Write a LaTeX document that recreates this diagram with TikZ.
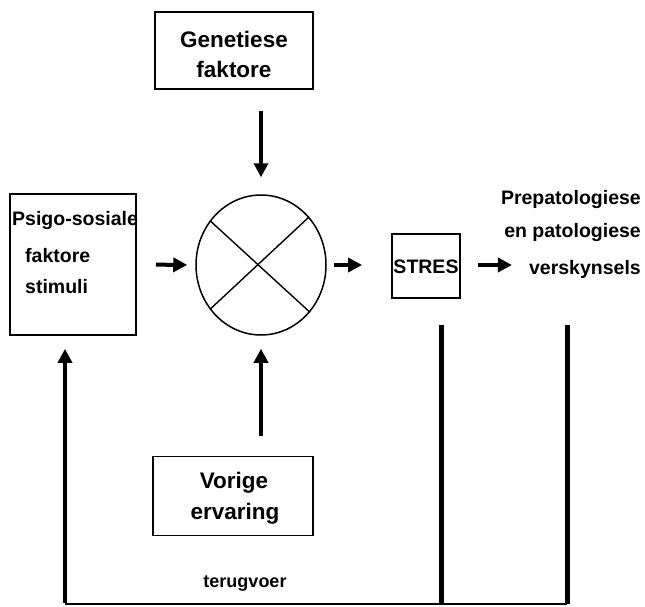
\documentclass[tikz,border=0pt]{standalone}
\usepackage{fontspec}
\setmainfont{Liberation Sans}
\usetikzlibrary{arrows.meta,shapes.geometric}
\begin{document}
\begin{tikzpicture}[x=1pt,y=-1pt,
  box/.style={draw,line width=1.8pt,inner sep=0pt},
  lbl/.style={inner sep=0pt,anchor=base,font=\bfseries\fontsize{22.5}{26}\selectfont},
  slbl/.style={inner sep=0pt,font=\bfseries\fontsize{19.5}{23}\selectfont},
  flow/.style={line width=4pt,-{Triangle[length=14pt,width=14pt]}},
  fbline/.style={line width=5pt},
]
\useasboundingbox (0,0) rectangle (645,607);

% boxes
\node[box,minimum width=158pt,minimum height=77pt] (gen) at (234,50.5) {};
\node[box,minimum width=126pt,minimum height=141pt] (psigo) at (73,264.5) {};
\node[box,minimum width=68pt,minimum height=64pt] (stres) at (426,266) {};
\node[box,minimum width=160pt,minimum height=79pt] (vor) at (233,496) {};

% combining ellipse with its cross
\node[draw,ellipse,line width=1.5pt,minimum width=130pt,minimum height=140pt,inner sep=0pt] (circ) at (261,265) {};
\draw[line width=1.4pt] (circ.139) -- (circ.316);
\draw[line width=1.4pt] (circ.45) -- (circ.221);

% texts
\node[lbl] (gen1) at (234,48) {Genetiese};
\node[lbl] (gen2) at (234,78) {faktore};
\node[lbl] (vor1) at (234,488) {Vorige};
\node[lbl] (vor2) at (235,519) {ervaring};
\node[slbl,anchor=base west] (ps1) at (12,225) {Psigo-sosiale};
\node[slbl,anchor=base west] (ps2) at (25,262) {faktore};
\node[slbl,anchor=base west] (ps3) at (25,293) {stimuli};
\node[slbl,anchor=base] (stxt) at (426,273) {STRES};
\node[slbl,anchor=base east] (pre1) at (641,204) {Prepatologiese};
\node[slbl,anchor=base east] (pre2) at (641,237) {en patologiese};
\node[slbl,anchor=base east] (pre3) at (641,274) {verskynsels};
\node[slbl,font=\bfseries\fontsize{18}{22}\selectfont,anchor=base] (terug) at (245,587) {terugvoer};

% flow arrows
\draw[flow,shorten <=21pt,shorten >=17pt] (gen.south -| circ.north) -- (circ.north);
\draw[flow,shorten <=20pt,shorten >=13pt] (vor.north -| circ.south) -- (circ.south);
\draw[flow,shorten <=19pt,shorten >=8pt] (psigo.east) -- (circ.west);
\draw[flow,shorten <=7pt,shorten >=29pt] (circ.east) -- (circ.east -| stres.west);
\draw[flow,shorten <=17pt,shorten >=17pt] (stres.east |- circ.east) -- (circ.east -| pre3.west);

% feedback loop
\coordinate (fa) at (441,325);
\coordinate (fb) at (567,325);
\coordinate (bot) at (65,604);
\draw[fbline] (fa) -- (fa |- bot);
\draw[fbline] (fb) -- (fb |- bot);
\draw[line width=2.5pt] (bot) -- (fb |- bot);
\draw[flow,shorten >=13pt] ([yshift=1.25pt]bot) -- (psigo.south -| bot);
\end{tikzpicture}
\end{document}
